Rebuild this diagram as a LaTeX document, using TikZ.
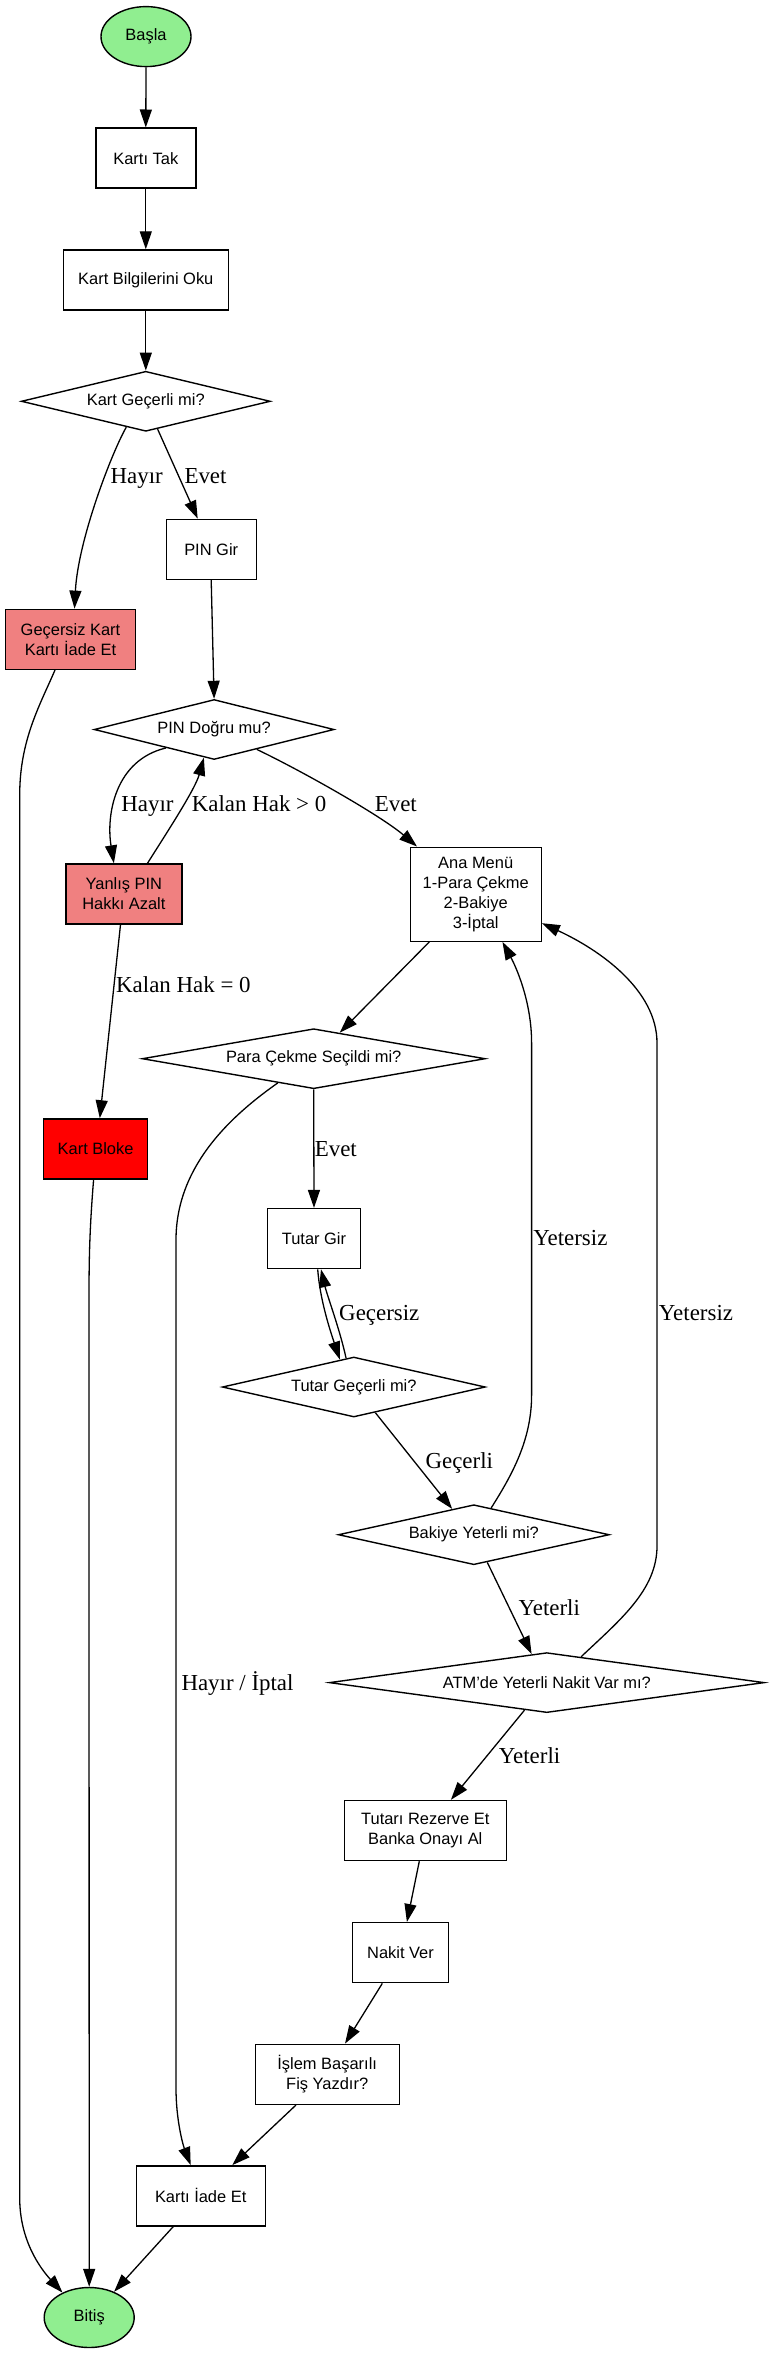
\documentclass[tikz,border=0pt]{standalone}
\usepackage{fontspec}
\setmainfont{Liberation Serif}
\newfontfamily\nodefont{Liberation Sans}
\usetikzlibrary{shapes.geometric,arrows.meta,calc}
\definecolor{lgreen}{HTML}{90EE90}
\definecolor{lcoral}{HTML}{F08080}
\definecolor{bred}{HTML}{FF0000}
\begin{document}
\begin{tikzpicture}[x=1bp,y=-1bp,
  base/.style={draw=black, line width=1.4bp, inner sep=0pt, font=\nodefont\fontsize{16.5}{20}\selectfont},
  procbox/.style={base, rectangle, align=center, minimum height=60bp},
  decision/.style={base, diamond, minimum height=60bp},
  term/.style={base, ellipse, fill=lgreen, minimum width=90bp, minimum height=60bp},
  conn/.style={line width=1.3bp, -{Triangle[length=18bp,width=12bp]}},
  elabel/.style={font=\fontsize{23}{26}\selectfont, inner sep=0pt, text height=15bp, text depth=0bp}
]
\fill[white] (0,0) rectangle (771,2355);
\useasboundingbox (0,0) rectangle (771,2355);

% nodes
\node[term] (basla) at (146,36.6) {Başla};
\node[procbox, minimum width=100bp] (tak) at (145.8,158.2) {Kartı Tak};
\node[procbox, minimum width=165bp] (oku) at (145.8,280) {Kart Bilgilerini Oku};
\node[decision, minimum width=249bp] (gecerli) at (145.8,401.3) {\makebox[0pt]{Kart Geçerli mi?}};
\node[procbox, minimum width=90bp] (pingir) at (211.2,549.3) {PIN Gir};
\node[procbox, minimum width=130bp, fill=lcoral] (gecersiz) at (70.5,639.3) {Geçersiz Kart\\Kartı İade Et};
\node[decision, minimum width=240bp] (pindogru) at (214.1,729.5) {\makebox[0pt]{PIN Doğru mu?}};
\node[procbox, minimum width=116bp, fill=lcoral] (yanlis) at (123.9,894) {Yanlış PIN\\Hakkı Azalt};
\node[procbox, minimum width=131bp, minimum height=94bp] (ana) at (475.7,894.2) {Ana Menü\\1-Para Çekme\\2-Bakiye\\3-İptal};
\node[decision, minimum width=343bp] (para) at (313.7,1058.7) {\makebox[0pt]{Para Çekme Seçildi mi?}};
\node[procbox, minimum width=104bp, fill=bred] (bloke) at (95.6,1148.9) {Kart Bloke};
\node[procbox, minimum width=93bp] (tutargir) at (314,1238.6) {Tutar Gir};
\node[decision, minimum width=263bp] (tutargec) at (353.8,1387) {\makebox[0pt]{Tutar Geçerli mi?}};
\node[decision, minimum width=271bp] (bakiye) at (473.8,1534.7) {\makebox[0pt]{Bakiye Yeterli mi?}};
\node[decision, minimum width=435bp] (atm) at (546.8,1682.6) {\makebox[0pt]{ATM’de Yeterli Nakit Var mı?}};
\node[procbox, minimum width=162bp] (rezerve) at (425.3,1830.5) {Tutarı Rezerve Et\\Banka Onayı Al};
\node[procbox, minimum width=96bp] (nakit) at (400.5,1952.7) {Nakit Ver};
\node[procbox, minimum width=144bp] (islem) at (327.2,2074.3) {İşlem Başarılı\\Fiş Yazdır?};
\node[procbox, minimum width=129bp] (kartiade) at (200.7,2195.8) {Kartı İade Et};
\node[term] (bitis) at (89.2,2317.5) {Bitiş};

% connectors
\draw[conn] (basla.south) -- (tak.north);
\draw[conn] (tak.south) -- (oku.north);
\draw[conn] (oku.south) -- (gecerli.north);
\draw[conn] (gecerli.233) .. controls (112,452) and (78,540) .. ([xshift=4bp]gecersiz.north);
\draw[conn] (gecerli.-67) -- ([xshift=-13.5bp]pingir.north);
\draw[conn] (pingir.south) -- (pindogru.north);
\draw[conn] (pindogru.201) .. controls (115,760) and (106,815) .. ([xshift=-10bp]yanlis.north);
\draw[conn] ([xshift=23.6bp]yanlis.north) .. controls (162,840) and (195,790) .. (pindogru.250);
\draw[conn] (pindogru.-25) .. controls (300,770) and (380,815) .. ([xshift=-58.7bp]ana.north);
\draw[conn] ([xshift=-3.4bp]yanlis.south) -- ([xshift=4.2bp]bloke.north);
\draw[conn] ([xshift=-46.4bp]ana.south) -- (para.45);
\draw[conn] (para.south) -- (tutargir.north);
\draw[conn] (para.214) .. controls (225,1120) and (176,1170) .. (176,1240) -- (176,2088) .. controls (176,2120) and (183,2145) .. ([xshift=-10bp]kartiade.north);
\draw[conn] ([xshift=3.7bp]tutargir.south) .. controls (320,1300) and (330,1330) .. (tutargec.117);
\draw[conn] (tutargec.105) .. controls (340,1330) and (327,1295) .. ([xshift=7bp]tutargir.south);
\draw[conn] (tutargec.-50) -- (bakiye.130);
\draw[conn] (bakiye.-64) -- (atm.118);
\draw[conn] (bakiye.57) .. controls (512,1475) and (531.6,1440) .. (531.6,1395) -- (531.6,1043) .. controls (531.6,1000) and (515,965) .. ([xshift=26.8bp]ana.south);
\draw[conn] (atm.37) .. controls (620,1620) and (657,1590) .. (657,1546) -- (657,1043) .. controls (657,990) and (600,950) .. ([yshift=-29bp]ana.east);
\draw[conn] (atm.231) -- ([xshift=25.6bp]rezerve.north);
\draw[conn] ([xshift=-6bp]rezerve.south) -- ([xshift=6.4bp]nakit.north);
\draw[conn] ([xshift=-18.2bp]nakit.south) -- ([xshift=17.8bp]islem.north);
\draw[conn] ([xshift=-31.2bp]islem.south) -- ([xshift=31.6bp]kartiade.north);
\draw[conn] ([xshift=-27.4bp]kartiade.south) -- (bitis.46);
\draw[conn] ([xshift=-2bp]bloke.south) .. controls (89.5,1230) and (89,1260) .. (89,1300) -- (bitis.north);
\draw[conn] ([xshift=-15.5bp]gecersiz.south) .. controls (40,705) and (19.7,740) .. (19.7,795) -- (19.7,2198) .. controls (19.7,2240) and (40,2268) .. (bitis.137);

% edge labels
\node[elabel] (l1) at (136.7,475.9) {Hayır};
\node[elabel] (l2) at (205.5,475.9) {Evet};
\node[elabel] (l3) at (147.5,804) {Hayır};
\node[elabel] (l4) at (259.1,804) {Kalan Hak > 0};
\node[elabel] (l5) at (395.8,804) {Evet};
\node[elabel] (l6) at (183.4,984.8) {Kalan Hak = 0};
\node[elabel] (l7) at (335.8,1148.7) {Evet};
\node[elabel] (l8) at (570.4,1238.4) {Yetersiz};
\node[elabel] (l9) at (379.3,1312.7) {Geçersiz};
\node[elabel] (l10) at (696,1312.7) {Yetersiz};
\node[elabel] (l11) at (459.3,1460.7) {Geçerli};
\node[elabel] (l12) at (549.3,1608.3) {Yeterli};
\node[elabel] (l13) at (237.5,1682.6) {Hayır / İptal};
\node[elabel] (l14) at (529.6,1756.2) {Yeterli};
\end{tikzpicture}
\end{document}
